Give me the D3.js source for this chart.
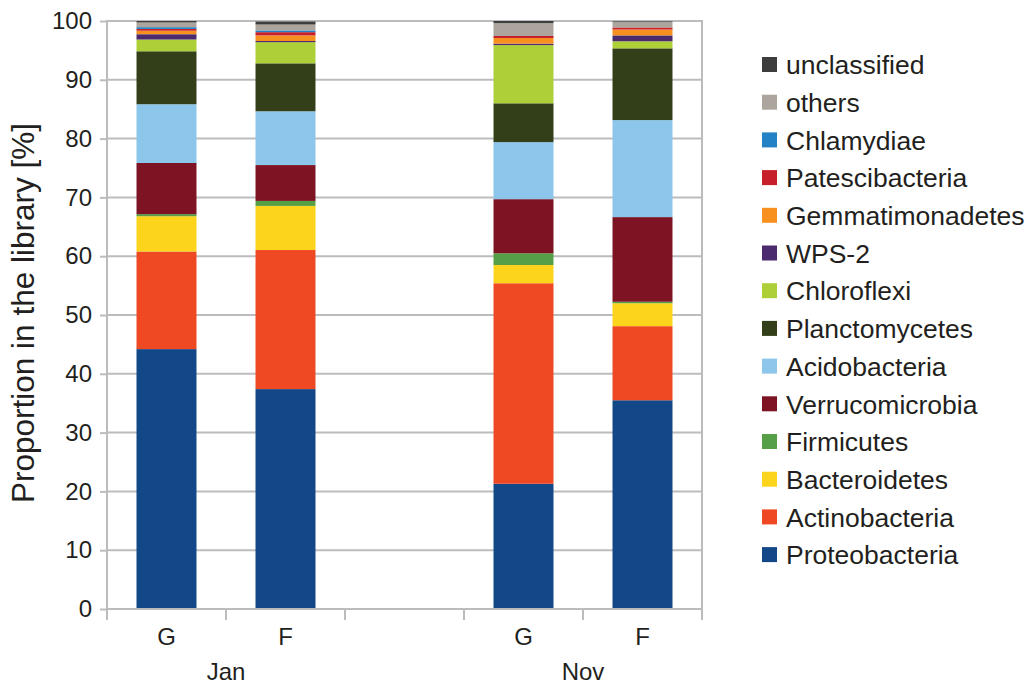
<!DOCTYPE html>
<html>
<head>
<meta charset="utf-8">
<script src="https://cdn.jsdelivr.net/npm/d3@7"></script>
<style>
  html, body { margin: 0; padding: 0; background: #fff; }
  svg { display: block; }
  text { font-family: "Liberation Sans", Arial, Helvetica, sans-serif; fill: #231f20; }
</style>
</head>
<body>
<svg id="chart" width="1030" height="687"></svg>
<script>
// ---- data ----
const slots = ["Jan-G", "Jan-F", "gap", "Nov-G", "Nov-F"];
const samples = ["Jan-G", "Jan-F", "Nov-G", "Nov-F"];
const sampleLabels = ["G", "F", "G", "F"];
const groups = ["Jan", "Nov"];
const yTicks = [0, 10, 20, 30, 40, 50, 60, 70, 80, 90, 100];

const seriesNames = ["Proteobacteria", "Actinobacteria", "Bacteroidetes", "Firmicutes",
  "Verrucomicrobia", "Acidobacteria", "Planctomycetes", "Chloroflexi", "WPS-2",
  "Gemmatimonadetes", "Patescibacteria", "Chlamydiae", "others", "unclassified"];
const seriesColors = ["#124887", "#ef4923", "#fdd41c", "#55a046",
  "#7d1323", "#8cc6ea", "#333f19", "#add038", "#4b2a6e",
  "#f7901e", "#c8202a", "#2381c5", "#aba59e", "#3d3d3d"];

const proteobacteria   = [44.2, 37.4, 21.3, 35.5];
const actinobacteria   = [16.6, 23.65, 34.1, 12.6];
const bacteroidetes    = [6.0, 7.5, 3.1, 3.9];
const firmicutes       = [0.35, 0.85, 2.0, 0.25];
const verrucomicrobia  = [8.7, 6.1, 9.2, 14.4];
const acidobacteria    = [10.0, 9.15, 9.7, 16.5];
const planctomycetes   = [9.0, 8.15, 6.6, 12.2];
const chloroflexi      = [2.0, 3.6, 9.9, 1.2];
const wps2             = [0.9, 0.2, 0.25, 1.0];
const gemmatimonadetes = [0.6, 0.95, 0.95, 1.0];
const patescibacteria  = [0.3, 0.55, 0.35, 0.35];
const chlamydiae       = [0.3, 0.3, 0.0, 0.0];
const others           = [0.8, 1.0, 2.2, 0.95];
const unclassified     = [0.3, 0.5, 0.4, 0.1];

const seriesValues = [proteobacteria, actinobacteria, bacteroidetes, firmicutes,
  verrucomicrobia, acidobacteria, planctomycetes, chloroflexi, wps2,
  gemmatimonadetes, patescibacteria, chlamydiae, others, unclassified];

(function () {
// ---- build table ----
const table = samples.map((s, i) => {
  const row = { sample: s };
  seriesNames.forEach((n, k) => { row[n] = seriesValues[k][i]; });
  return row;
});
const stacked = d3.stack().keys(seriesNames)(table);

// ---- layout ----
const svg = d3.select("#chart");
const pL = 107, pR = 702, pT = 21, pB = 609;
const gridColor = "#bcbcbe";

const x = d3.scaleBand().domain(slots).range([pL, pR])
  .paddingInner(0.496).paddingOuter(0.248);
const y = d3.scaleLinear().domain([0, 100]).range([pB, pT]);

// gridlines
svg.append("g").selectAll("line").data(yTicks.filter(t => t > 0)).join("line")
  .attr("x1", pL).attr("x2", pR)
  .attr("y1", d => y(d)).attr("y2", d => y(d))
  .attr("stroke", gridColor).attr("stroke-width", 2);

// right border
svg.append("line").attr("x1", pR).attr("x2", pR)
  .attr("y1", pT - 1).attr("y2", pB)
  .attr("stroke", gridColor).attr("stroke-width", 2);

// bars
const clip = v => Math.max(0, Math.min(100, v));
svg.append("g").selectAll("g").data(stacked).join("g")
  .attr("fill", (d, i) => seriesColors[i])
  .selectAll("rect").data(d => d).join("rect")
  .attr("x", d => x(d.data.sample))
  .attr("width", x.bandwidth())
  .attr("y", d => y(clip(d[1])))
  .attr("height", d => Math.max(0, y(clip(d[0])) - y(clip(d[1]))));

// y axis
const yAxis = d3.axisLeft(y).tickValues(yTicks).tickSize(7).tickPadding(8).tickSizeOuter(0);
const gy = svg.append("g").attr("transform", `translate(${pL},0)`).call(yAxis);
gy.select(".domain").attr("stroke", gridColor).attr("stroke-width", 2)
  .attr("d", `M0,${pT - 1}V${pB + 11}`);
gy.selectAll(".tick line").attr("stroke", gridColor).attr("stroke-width", 2);
gy.selectAll(".tick text").attr("font-size", 24).attr("fill", "#231f20")
  .style("font-family", "Liberation Sans, Arial, sans-serif");

// x axis line and slot ticks
svg.append("line").attr("x1", pL).attr("x2", pR + 1)
  .attr("y1", pB).attr("y2", pB)
  .attr("stroke", gridColor).attr("stroke-width", 2);
const boundaries = slots.map((s, i) => i === 0 ? pL : x(s) - x.step() * x.paddingInner() / 2);
boundaries.push(pR);
svg.append("g").selectAll("line").data(boundaries).join("line")
  .attr("x1", d => d).attr("x2", d => d)
  .attr("y1", pB).attr("y2", pB + 11)
  .attr("stroke", gridColor).attr("stroke-width", 2);

// sample labels
svg.append("g").selectAll("text").data(samples).join("text")
  .attr("x", d => x(d) + x.bandwidth() / 2)
  .attr("y", 645)
  .attr("text-anchor", "middle")
  .attr("font-size", 24)
  .text((d, i) => sampleLabels[i]);

// group labels
const groupCenters = [
  (x("Jan-G") + x("Jan-F") + x.bandwidth()) / 2,
  (x("Nov-G") + x("Nov-F") + x.bandwidth()) / 2
];
svg.append("g").selectAll("text").data(groups).join("text")
  .attr("x", (d, i) => groupCenters[i])
  .attr("y", 680)
  .attr("text-anchor", "middle")
  .attr("font-size", 24)
  .text(d => d);

// y title
svg.append("text")
  .attr("transform", `translate(34,313) rotate(-90)`)
  .attr("text-anchor", "middle")
  .attr("font-size", 31.5)
  .text("Proportion in the library [%]");

// legend
const legendItems = seriesNames.map((n, i) => ({ name: n, color: seriesColors[i] })).reverse();
const lg = svg.append("g").selectAll("g").data(legendItems).join("g")
  .attr("transform", (d, i) => `translate(762,${65 + i * 37.7})`);
lg.append("rect").attr("x", 0).attr("y", -8).attr("width", 15).attr("height", 15)
  .attr("fill", d => d.color);
lg.append("text").attr("x", 24).attr("y", 0).attr("dy", "0.35em")
  .attr("font-size", 26.5).text(d => d.name);
})();
</script>
</body>
</html>
